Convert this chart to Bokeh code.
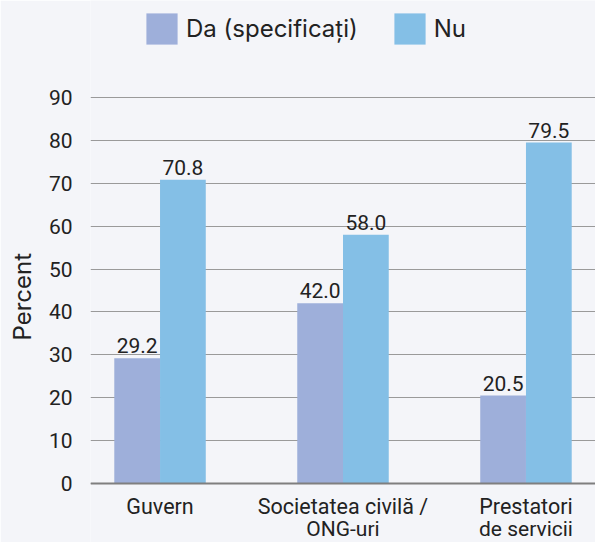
from bokeh.plotting import figure
from bokeh.models import (Range1d, FixedTicker, Legend, LegendItem, ColumnDataSource,
                          Span, Title)
from bokeh.core.properties import value
from bokeh.embed import file_html
from bokeh.resources import INLINE

categories = ["Guvern", "Societatea civilă /\nONG-uri", "Prestatori\nde servicii"]
series_names = ["Da (specificați)", "Nu"]
da_values = [29.2, 42.0, 20.5]
nu_values = [70.8, 58.0, 79.5]
y_ticks = [0, 10, 20, 30, 40, 50, 60, 70, 80, 90]

BG = "#f4f5f9"
DA_COLOR = "#9eafda"
NU_COLOR = "#84bfe6"
TXT = "#222222"

# frame covers the whole height; 0 -> 483px, 90 -> 97px
PX_PER_UNIT = (483 - 97) / 90.0
y_lo = -(542 - 483) / PX_PER_UNIT
y_hi = 90 + 97 / PX_PER_UNIT

p = figure(width=595, height=542, output_backend="svg", toolbar_location=None,
           x_range=Range1d(-0.38, 2.38), y_range=Range1d(y_lo, y_hi),
           min_border_left=90, min_border_right=0, min_border_top=0,
           min_border_bottom=0)
p.background_fill_color = BG
p.border_fill_color = BG
p.outline_line_color = None

idx = list(range(len(categories)))
bw = 0.25
src_da = ColumnDataSource(dict(x=[i - bw / 2 for i in idx], top=da_values,
                               lab=[f"{v:.1f}" for v in da_values]))
src_nu = ColumnDataSource(dict(x=[i + bw / 2 for i in idx], top=nu_values,
                               lab=[f"{v:.1f}" for v in nu_values]))

r_da = p.vbar(x="x", top="top", width=bw, bottom=0, source=src_da,
              fill_color=DA_COLOR, line_color=None)
r_nu = p.vbar(x="x", top="top", width=bw, bottom=0, source=src_nu,
              fill_color=NU_COLOR, line_color=None)

for s in (src_da, src_nu):
    p.text(x="x", y="top", text="lab", source=s, text_align="center",
           text_baseline="bottom", y_offset=-5, text_font=value("Roboto"),
           text_font_size="21px", text_color=TXT)

# category axis line and labels
p.add_layout(Span(location=0, dimension="width", line_color="#7f7f7f", line_width=2))
lines1 = [c.split("\n")[0] for c in categories]
lines2 = [c.split("\n")[1] if "\n" in c else "" for c in categories]
cat_src = ColumnDataSource(dict(x=idx, y=[0] * len(idx), l1=lines1, l2=lines2))
p.text(x="x", y="y", text="l1", source=cat_src, text_align="center",
       text_baseline="middle", y_offset=23, text_font=value("Roboto"),
       text_font_size="21.5px", text_color=TXT)
p.text(x="x", y="y", text="l2", source=cat_src, text_align="center",
       text_baseline="middle", y_offset=45, text_font=value("Roboto"),
       text_font_size="21px", text_color=TXT)
p.xaxis.visible = False
p.xgrid.grid_line_color = None

# y axis
p.yaxis.ticker = FixedTicker(ticks=y_ticks)
p.yaxis.axis_line_color = None
p.yaxis.major_tick_line_color = None
p.yaxis.major_tick_out = 0
p.yaxis.major_tick_in = 0
p.yaxis.minor_tick_line_color = None
p.yaxis.major_label_text_font = "Roboto"
p.yaxis.major_label_text_font_size = "21px"
p.yaxis.major_label_text_color = TXT
p.yaxis.major_label_standoff = 18
p.ygrid.grid_line_color = "#9a9a9a"
p.ygrid.grid_line_width = 1

ytitle = Title(text="Percent", align="left", offset=542 - 340, vertical_align="top",
               text_font="Inter", text_font_size="24px", text_font_style="normal",
               text_color=TXT, standoff=14)
p.add_layout(ytitle, "left")

legend = Legend(items=[LegendItem(label=series_names[0], renderers=[r_da]),
                       LegendItem(label=series_names[1], renderers=[r_nu])],
                location=(52, 542 - 48), orientation="horizontal",
                glyph_width=39, glyph_height=39, label_standoff=5, spacing=32,
                padding=0, margin=0, border_line_color=None,
                background_fill_alpha=0, label_text_font="Inter",
                label_text_font_size="24px", label_text_color=TXT)
p.add_layout(legend)

open("out.html", "w").write(file_html(p, INLINE))
